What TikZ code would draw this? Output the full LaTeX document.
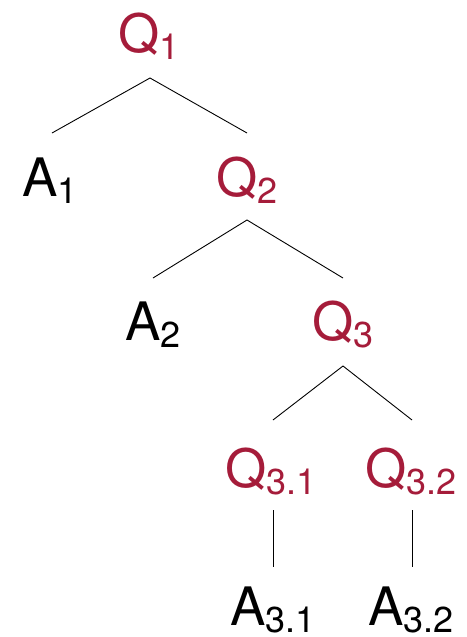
\documentclass[tikz,border=0pt]{standalone}
\usepackage{fontspec}
\setmainfont{TeX Gyre Heros}
\usetikzlibrary{calc}
\definecolor{crimson}{RGB}{165,28,58}
\newcommand\sublab[2]{#1\raisebox{-7pt}{\fontsize{36}{40}\selectfont #2}}
\tikzset{
  lbl/.style={anchor=base west, inner sep=0pt, font=\fontsize{53}{60}\selectfont},
  qlbl/.style={lbl, text=crimson},
  alb/.style={lbl, text=black},
  edge/.style={draw=black, line width=0.9pt}
}
\begin{document}
\begin{tikzpicture}[x=1pt,y=-1pt]
\useasboundingbox (0,0) rectangle (466,637);
% questions and answers
\node[qlbl] (q1)  at (118,52)  {\sublab{Q}{1}};
\node[alb]  (a1)  at (22,196)  {\sublab{A}{1}};
\node[qlbl] (q2)  at (216,196) {\sublab{Q}{2}};
\node[alb]  (a2)  at (125,340) {\sublab{A}{2}};
\node[qlbl] (q3)  at (312,340) {\sublab{Q}{3}};
\node[qlbl] (q31) at (225,487) {\sublab{Q}{3.1}};
\node[qlbl] (q32) at (365,487) {\sublab{Q}{3.2}};
\node[alb]  (a31) at (230,625) {\sublab{A}{3.1}};
\node[alb]  (a32) at (368,625) {\sublab{A}{3.2}};
% branches
\draw[edge] ($(a1.base west)+(30,-63)$) -- ($(q1.base west)+(32,26)$) -- ($(q2.base west)+(31,-63)$);
\draw[edge] ($(a2.base west)+(28,-62)$) -- ($(q2.base west)+(31,24)$) -- ($(q3.base west)+(31,-62)$);
\draw[edge] ($(q31.base west)+(48,-67)$) -- ($(q3.base west)+(31,26)$) -- ($(q32.base west)+(47,-67)$);
\draw[edge] ($(q31.base west)+(48,23)$) -- ($(a31.base west)+(43,-58)$);
\draw[edge] ($(q32.base west)+(47,23)$) -- ($(a32.base west)+(44,-58)$);
\end{tikzpicture}
\end{document}
